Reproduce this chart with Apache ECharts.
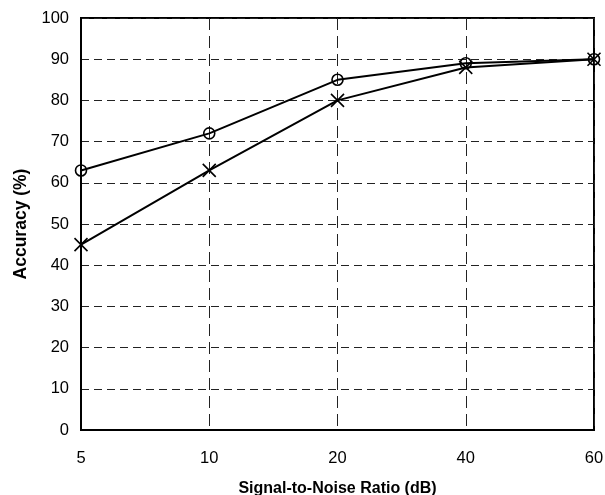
<!DOCTYPE html>
<html><head><meta charset="utf-8">
<script src="https://cdn.jsdelivr.net/npm/echarts@6/dist/echarts.min.js"></script>
<style>html,body{margin:0;padding:0;background:#fff}#c{width:605px;height:495px}</style>
</head><body><div id="c"></div>
<script>
var categories = ['5', '10', '20', '40', '60'];
var seriesCircle = [63, 72, 85, 89, 90];
var seriesCross = [45, 63, 80, 88, 90];
var chart = echarts.init(document.getElementById('c'));
var font = 'Liberation Sans, Arial, sans-serif';
chart.setOption({
  animation: false,
  backgroundColor: '#fff',
  grid: { left: 81, right: 11, top: 18, bottom: 65, containLabel: false, outerBoundsMode: 'none', show: true, borderColor: '#000', borderWidth: 2, backgroundColor: 'transparent' },
  xAxis: {
    type: 'category', data: categories, boundaryGap: false,
    name: 'Signal-to-Noise Ratio (dB)', nameLocation: 'middle', nameGap: 51,
    nameTextStyle: { fontFamily: font, fontWeight: 'bold', fontSize: 16, color: '#000' },
    axisLine: { lineStyle: { color: '#000', width: 2 } },
    axisTick: { show: false },
    axisLabel: { fontFamily: font, fontSize: 16.5, color: '#000', margin: 20 },
    splitLine: { show: true, lineStyle: { color: '#222', width: 1, type: [12, 6] } }
  },
  yAxis: {
    type: 'value', min: 0, max: 100, interval: 10,
    name: 'Accuracy (%)', nameLocation: 'middle', nameGap: 51,
    nameTextStyle: { fontFamily: font, fontWeight: 'bold', fontSize: 17.5, color: '#000' },
    axisLine: { show: true, lineStyle: { color: '#000', width: 2 } },
    axisTick: { show: false },
    axisLabel: { fontFamily: font, fontSize: 16.5, color: '#000', margin: 12 },
    splitLine: { show: true, lineStyle: { color: '#222', width: 1, type: [8, 5] } }
  },
  series: [
    {
      type: 'line', data: seriesCircle, symbol: 'circle', symbolSize: 11,
      lineStyle: { color: '#000', width: 2 },
      itemStyle: { color: 'none', borderColor: '#000', borderWidth: 1.6 }
    },
    {
      type: 'line', data: seriesCross, symbol: 'path://M0,0L10,10M10,0L0,10', symbolSize: 13,
      lineStyle: { color: '#000', width: 2 },
      itemStyle: { color: 'none', borderColor: '#000', borderWidth: 1.6 }
    }
  ]
});
</script></body></html>
